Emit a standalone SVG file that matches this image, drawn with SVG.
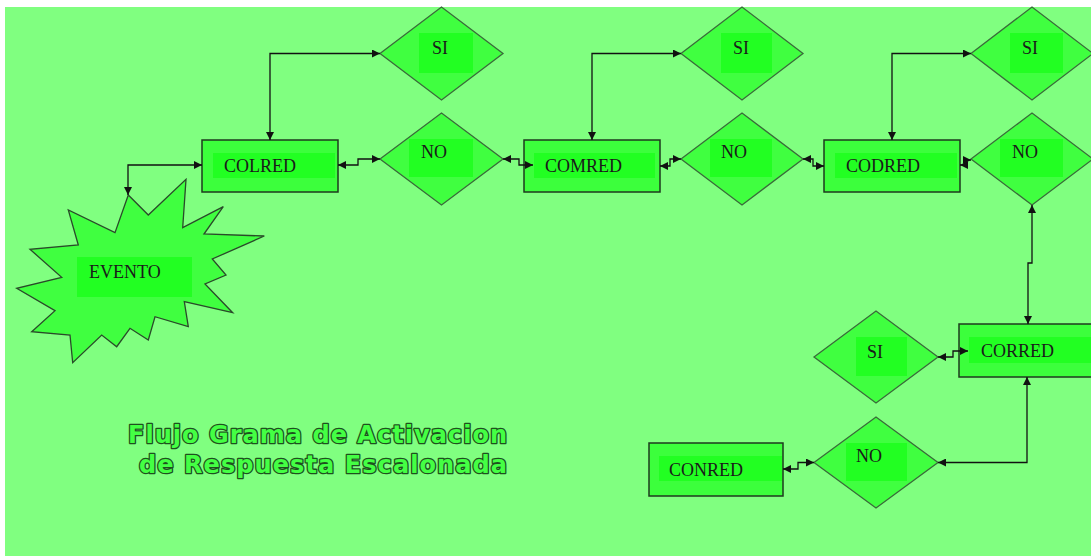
<svg xmlns="http://www.w3.org/2000/svg" width="1091" height="557" viewBox="0 0 1091 557">
<defs>
<style>
.bg{fill:#80ff80}
.box{fill:#3cff3c;stroke:#1e3a1e;stroke-width:1.5}
.dia{fill:#40ff40;stroke:#3a6a3a;stroke-width:1.3}
.star{fill:#40ff40;stroke:#2a4a2a;stroke-width:1.3}
.hl{fill:#22ff22}
.lbl{font-family:"Liberation Serif","Times New Roman",serif;font-size:18px;fill:#1a1a1a}
.con{fill:none;stroke:#111;stroke-width:1.3;marker-start:url(#ah);marker-end:url(#ah)}
.title{font-family:"DejaVu Sans",sans-serif;font-weight:bold;font-size:24px;fill:#44ff44;stroke:#1f4f1f;stroke-width:2.6;paint-order:stroke;stroke-linejoin:round}
</style>
<marker id="ah" viewBox="0 0 10 10" refX="10" refY="5" markerWidth="9" markerHeight="8" markerUnits="userSpaceOnUse" orient="auto-start-reverse"><path d="M0,0 L10,5 L0,10 z" fill="#111"/></marker>
</defs>
<rect x="0" y="0" width="1091" height="557" fill="#ffffff"/>
<rect class="bg" x="5" y="7" width="1086" height="549"/>

<g id="evento">
<polygon class="star" points="128.3,195 148.3,215 186,179.3 182.7,227.7 223.3,206.7 204,234 264.3,236 212.3,259 226,275 205,284 232.7,312.7 184.3,301.7 188.3,326.7 155,316.7 148.3,340 130,328.3 116.7,346.7 101.7,335 72.7,362.7 70,335 31.7,331.7 55,310.7 16.7,288.3 61.7,277.3 30,249.3 78.3,245 68.3,210 115,232.7"/>
<rect class="hl" x="77" y="257" width="115" height="40"/>
<text class="lbl" x="89" y="278">EVENTO</text>
</g>

<g id="colred">
<rect class="box" x="202" y="140" width="136" height="52"/>
<rect class="hl" x="213" y="153" width="122" height="25"/>
<text class="lbl" x="224" y="172">COLRED</text>
</g>
<g id="comred">
<rect class="box" x="524" y="140" width="136" height="52"/>
<rect class="hl" x="534" y="153" width="121" height="25"/>
<text class="lbl" x="545" y="172">COMRED</text>
</g>
<g id="codred">
<rect class="box" x="824" y="140" width="136" height="52"/>
<rect class="hl" x="835" y="153" width="122" height="25"/>
<text class="lbl" x="846" y="172">CODRED</text>
</g>
<g id="corred">
<rect class="box" x="959" y="324" width="140" height="53"/>
<rect class="hl" x="969" y="337" width="130" height="26"/>
<text class="lbl" x="981" y="357">CORRED</text>
</g>
<g id="conred">
<rect class="box" x="649" y="443" width="134" height="53"/>
<rect class="hl" x="659" y="456" width="123" height="25"/>
<text class="lbl" x="669" y="476">CONRED</text>
</g>

<g id="si1">
<polygon class="dia" points="380,53.5 441.5,7 503,53.5 441.5,100"/>
<rect class="hl" x="419" y="33" width="54" height="40"/>
<text class="lbl" x="432" y="54">SI</text>
</g>
<g id="no1">
<polygon class="dia" points="380,159 441.5,113 503,159 441.5,205"/>
<rect class="hl" x="409" y="139" width="64" height="38"/>
<text class="lbl" x="421" y="158">NO</text>
</g>
<g id="si2">
<polygon class="dia" points="681,53.5 742,7 803,53.5 742,100"/>
<rect class="hl" x="721" y="33" width="51" height="40"/>
<text class="lbl" x="733" y="54">SI</text>
</g>
<g id="no2">
<polygon class="dia" points="681,159 742,113 803,159 742,205"/>
<rect class="hl" x="710" y="139" width="62" height="38"/>
<text class="lbl" x="721" y="158">NO</text>
</g>
<g id="si3">
<polygon class="dia" points="971,53.5 1032,7 1093,53.5 1032,100"/>
<rect class="hl" x="1010" y="33" width="53" height="40"/>
<text class="lbl" x="1022" y="54">SI</text>
</g>
<g id="no3">
<polygon class="dia" points="971,159 1032,113 1093,159 1032,205"/>
<rect class="hl" x="1000" y="139" width="63" height="38"/>
<text class="lbl" x="1012" y="158">NO</text>
</g>
<g id="si4">
<polygon class="dia" points="814,357 876,311 938,357 876,403"/>
<rect class="hl" x="856" y="337" width="51" height="39"/>
<text class="lbl" x="867" y="358">SI</text>
</g>
<g id="no4">
<polygon class="dia" points="814,462.5 876,417 938,462.5 876,508"/>
<rect class="hl" x="846" y="443" width="61" height="38"/>
<text class="lbl" x="856" y="462">NO</text>
</g>

<g id="connectors">
<path class="con" d="M202,165 H128 V195"/>
<path class="con" d="M270,140 V53.5 H380"/>
<path class="con" d="M338,165 H358 V159 H380"/>
<path class="con" d="M503,159 H519 V165 H533"/>
<path class="con" d="M592,140 V53.5 H681"/>
<path class="con" d="M660,166 H670 V159 H681"/>
<path class="con" d="M803,159 H813 V166 H824"/>
<path class="con" d="M892,140 V53.5 H971"/>
<path class="con" d="M960,165 H966 V160 H971"/>
<path class="con" d="M1032,205 V263 H1028 V324"/>
<path class="con" d="M938,357 H953 V351 H968"/>
<path class="con" d="M938,462.5 H1027 V377"/>
<path class="con" d="M783,469 H798 V462.5 H814"/>
</g>

<g id="title">
<text class="title" x="128" y="443" textLength="379" lengthAdjust="spacing">Flujo Grama de Activacion</text>
<text class="title" x="139" y="473" textLength="368" lengthAdjust="spacing">de Respuesta Escalonada</text>
</g>
</svg>
